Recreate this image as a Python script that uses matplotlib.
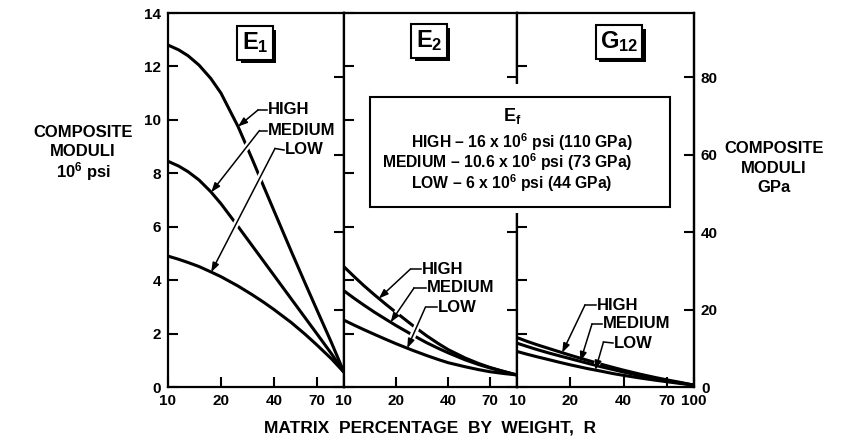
import matplotlib
matplotlib.use('Agg')
import matplotlib.pyplot as plt
import numpy as np
from matplotlib import patheffects as pe
from matplotlib.patches import Rectangle, FancyArrowPatch
from matplotlib.lines import Line2D

plt.rcParams['font.family'] = ['Liberation Sans', 'DejaVu Sans']
plt.rcParams['font.weight'] = 'bold'
plt.rcParams['mathtext.fontset'] = 'custom'
plt.rcParams['mathtext.rm'] = 'Liberation Sans:bold'
plt.rcParams['mathtext.bf'] = 'Liberation Sans:bold'
plt.rcParams['mathtext.it'] = 'Liberation Sans:bold'
plt.rcParams['mathtext.default'] = 'bf'

# ---------------- data ----------------
R = [10, 11.5, 13, 15, 17.5, 20, 25, 30, 35, 40, 50, 60, 70, 85, 100]

E1_high = [12.8, 12.62, 12.40, 12.05, 11.55, 11.0, 9.75, 8.55, 7.5, 6.6, 5.1, 3.9, 2.9, 1.65, 0.55]
E1_med = [8.45, 8.27, 8.06, 7.75, 7.31, 6.86, 6.01, 5.3, 4.7, 4.18, 3.31, 2.6, 2.0, 1.24, 0.55]
E1_low = [4.9, 4.78, 4.66, 4.51, 4.31, 4.13, 3.78, 3.46, 3.17, 2.9, 2.42, 1.98, 1.58, 1.05, 0.55]

E2_high = [4.5, 4.12, 3.80, 3.45, 3.09, 2.79, 2.30, 1.92, 1.63, 1.40, 1.09, 0.88, 0.73, 0.57, 0.45]
E2_med = [3.6, 3.31, 3.07, 2.80, 2.53, 2.30, 1.94, 1.66, 1.45, 1.28, 1.02, 0.84, 0.71, 0.57, 0.45]
E2_low = [2.5, 2.31, 2.15, 1.97, 1.78, 1.62, 1.37, 1.18, 1.03, 0.91, 0.76, 0.65, 0.57, 0.50, 0.45]

G12_high = [1.85, 1.70, 1.58, 1.45, 1.31, 1.19, 1.0, 0.85, 0.73, 0.63, 0.475, 0.36, 0.27, 0.165, 0.07]
G12_med = [1.64, 1.51, 1.40, 1.28, 1.16, 1.06, 0.89, 0.755, 0.65, 0.56, 0.42, 0.32, 0.24, 0.147, 0.07]
G12_low = [1.33, 1.22, 1.13, 1.03, 0.92, 0.83, 0.69, 0.59, 0.50, 0.435, 0.333, 0.258, 0.198, 0.126, 0.07]

panel_titles = [r'E$_1$', r'E$_2$', r'G$_{12}$']
series_labels = ['HIGH', 'MEDIUM', 'LOW']
psi_ticks = [0, 2, 4, 6, 8, 10, 12, 14]
gpa_ticks = [0, 20, 40, 60, 80]
x_ticks_inner = [10, 20, 40, 70]
x_ticks_last = [10, 20, 40, 70, 100]
legend_title = r'E$_f$'
legend_lines = ['HIGH – 16 x 10$^6$ psi (110 GPa)',
                'MEDIUM – 10.6 x 10$^6$ psi (73 GPa)',
                'LOW – 6 x 10$^6$ psi (44 GPa)']
PSI_TO_GPA = 6.895

# ---------------- layout ----------------
W, H = 857, 440
fig = plt.figure(figsize=(W / 100, H / 100), dpi=100)


def fx(x):
    return x / W


def fy(y):
    return 1 - y / H


lefts = [168, 344, 517]
rights = [344, 517, 694]
top, bottom = 13, 387
all_series = [(E1_high, E1_med, E1_low), (E2_high, E2_med, E2_low),
              (G12_high, G12_med, G12_low)]
axes = []
for i in range(3):
    ax = fig.add_axes([fx(lefts[i]), fy(bottom), fx(rights[i] - lefts[i]),
                       (bottom - top) / H])
    ax.set_xscale('log')
    ax.set_xlim(10, 100)
    ax.set_ylim(0, 14)
    for s in all_series[i]:
        ax.plot(R, s, color='black', lw=2.2, solid_capstyle='butt',
                solid_joinstyle='round', zorder=2)
    xt = x_ticks_last if i == 2 else x_ticks_inner
    ax.set_xticks(xt, labels=[str(v) for v in xt])
    ax.minorticks_off()
    ax.set_yticks(psi_ticks)
    ax.tick_params(axis='both', direction='in', length=7, width=1.5,
                   labelsize=11, pad=5, top=False)
    if i > 0:
        ax.tick_params(labelleft=False)
    for sp in ax.spines.values():
        sp.set_linewidth(1.6)
    sec = ax.secondary_yaxis('right', functions=(lambda v: v * PSI_TO_GPA,
                                                 lambda g: g / PSI_TO_GPA))
    sec.set_yticks(gpa_ticks)
    sec.tick_params(direction='in', length=7, width=1.5, labelsize=11, pad=5)
    sec.spines['right'].set_linewidth(1.6)
    if i < 2:
        sec.tick_params(labelright=False)
    axes.append(ax)

# panel title boxes with drop shadow
title_pos = [(255, 43), (429, 41), (619, 42)]
for (cx, cy), t in zip(title_pos, panel_titles):
    txt = fig.text(fx(cx), fy(cy), t, ha='center', va='center', fontsize=17,
                   fontweight='bold', zorder=8,
                   bbox=dict(boxstyle='square,pad=0.18', fc='white', ec='black', lw=1.5))
    txt.get_bbox_patch().set_path_effects([
        pe.SimplePatchShadow(offset=(2.5, -2.5), shadow_rgbFace='black', alpha=1.0),
        pe.Normal()])

# leaders: (panel, series index, tip R, text left x, text y, corner x, corner y)
leaders = [
    (0, 0, 25.0, 268, 110, 258, 110),
    (0, 1, 17.6, 268, 130.5, 259.5, 130.5),
    (0, 2, 17.6, 285, 150, 275, 148.5),
    (1, 0, 15.9, 422, 269, 410.5, 269),
    (1, 1, 18.6, 427, 288, 414, 288),
    (1, 2, 23.2, 438, 307, 425.5, 307),
    (2, 0, 18.0, 597, 305, 585, 305),
    (2, 1, 22.8, 603, 324, 592, 324),
    (2, 2, 27.7, 614, 343, 603.5, 342),
]
for (pi, si, tipR, tx, ty, cx, cy) in leaders:
    ax = axes[pi]
    s = all_series[pi][si]
    tipv = np.interp(np.log10(tipR), np.log10(R), s)
    dtip = ax.transData.transform((tipR, tipv))
    tip = np.array([dtip[0], dtip[1]])
    corner = np.array([cx, H - cy])
    fig.text(fx(tx), fy(ty), series_labels[si], ha='left', va='center',
             fontsize=12, fontweight='bold', zorder=7)
    fig.add_artist(Line2D([fx(tx - 1), fx(cx)], [fy(ty), fy(cy)],
                          transform=fig.transFigure, lw=1.1, color='black', zorder=5))
    p = corner + 0.8 * (tip - corner)
    fig.add_artist(Line2D([corner[0] / W, p[0] / W], [corner[1] / H, p[1] / H],
                          transform=fig.transFigure, lw=4.5, color='white',
                          solid_capstyle='butt', zorder=4))
    arr = FancyArrowPatch((corner[0] / W, corner[1] / H), (tip[0] / W, tip[1] / H),
                          transform=fig.transFigure,
                          arrowstyle='-|>,head_length=0.55,head_width=0.2',
                          mutation_scale=10, lw=1.1, color='black',
                          shrinkA=0, shrinkB=0, zorder=5)
    fig.add_artist(arr)

# legend box (white margin hides the spine behind it)
fig.add_artist(Rectangle((fx(362), fy(213)), fx(316), (213 - 84) / H,
                         transform=fig.transFigure, fc='white', ec='none', zorder=6))
fig.add_artist(Rectangle((fx(370), fy(207)), fx(300), (207 - 97) / H,
                         transform=fig.transFigure, fc='white', ec='black', lw=1.5,
                         zorder=6))
fig.text(fx(512), fy(116), legend_title, ha='center', va='center', fontsize=13,
         fontweight='bold', zorder=7)
legend_x = [411, 382, 411]
for k, line in enumerate(legend_lines):
    fig.text(fx(legend_x[k]), fy(142 + 20.5 * k), line, ha='left', va='center',
             fontsize=11.3, fontweight='bold', zorder=7)

# axis labels
for k, t in enumerate(['COMPOSITE', 'MODULI', '10$^6$ psi']):
    fig.text(fx(83), fy(132 + 20 * k), t, ha='center', va='center', fontsize=12,
             fontweight='bold')
for k, t in enumerate(['COMPOSITE', 'MODULI', 'GPa']):
    fig.text(fx(774), fy(148 + 20 * k), t, ha='center', va='center', fontsize=12,
             fontweight='bold')
fig.text(fx(430), fy(428), 'MATRIX  PERCENTAGE  BY  WEIGHT,  R', ha='center',
         va='center', fontsize=12.5, fontweight='bold')

fig.savefig('out.png', dpi=100)
